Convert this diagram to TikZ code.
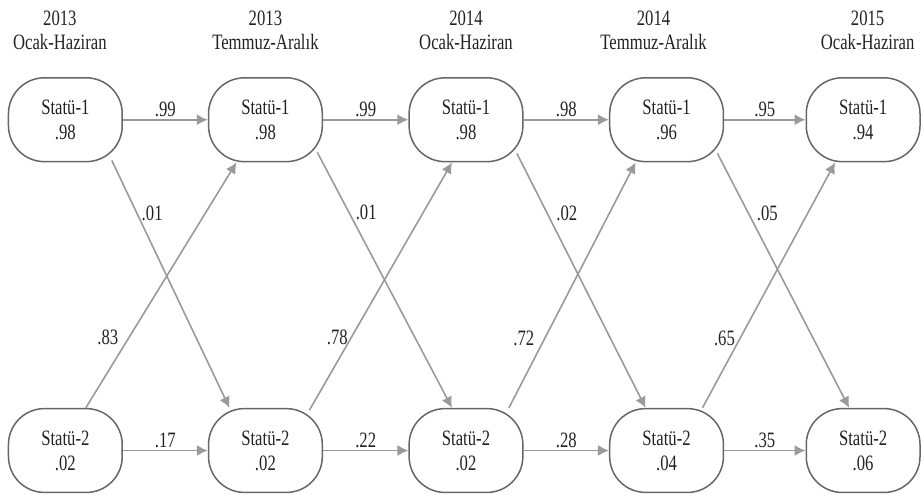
\documentclass[tikz,border=0pt]{standalone}
\usepackage{fontspec}
\setmainfont[FakeStretch=0.76]{Liberation Serif}
\usepackage{tikz}
\usepackage{xcolor}
\usetikzlibrary{arrows.meta, positioning, calc}

\definecolor{boxgray}{HTML}{666666}
\definecolor{arrowgray}{HTML}{9A9A9A}
\definecolor{inkgray}{HTML}{222222}

\tikzset{
  state/.style={draw=boxgray, line width=1.5pt, rounded corners=36pt,
    minimum width=114pt, minimum height=84pt, inner sep=0pt,
    align=center, text=inkgray, font=\fontsize{22}{25}\selectfont},
  trans/.style={draw=arrowgray, line width=1.6pt, -{Latex[length=11pt,width=11pt]}},
  prob/.style={inner sep=2pt, text=inkgray, font=\fontsize{22}{24}\selectfont},
  period/.style={align=center, text=inkgray, font=\fontsize{22}{24}\selectfont}
}

\begin{document}
\begin{tikzpicture}[x=1pt,y=1pt]
\useasboundingbox (0,0) rectangle (923,497);
% Periods
\foreach \x/\yr/\half [count=\i] in {60/2013/Ocak-Haziran, 266/2013/Temmuz-Aralık,
    467/2014/Ocak-Haziran, 655/2014/Temmuz-Aralık, 869.5/2015/Ocak-Haziran}
  \node[period] (p\i) at (\x,467) {\yr\\\half};

% States
\foreach \x/\one/\two [count=\i] in {65.5/.98/.02, 266/.98/.02, 467/.98/.02,
    668/.96/.04, 865/.94/.06} {
  \node[state] (t\i) at (\x,377) {Statü-1\\\one};
  \node[state] (b\i) at (\x,45.5) {Statü-2\\\two};
}

% Staying in the same status
\foreach \i/\up/\dn in {1/.99/.17, 2/.99/.22, 3/.98/.28, 4/.95/.35} {
  \pgfmathtruncatemacro{\j}{\i+1}
  \draw[trans] (t\i) -- node[prob, above] (h\i) {\up} (t\j);
  \draw[trans] (b\i) -- node[prob, above] (g\i) {\dn} (b\j);
}

% Changing status
\draw[trans] ([shift={(46.5,2)}]t1.south) -- ([xshift=-36pt]b2.north);
\draw[trans] ([xshift=20.5pt]b1.north) -- ([xshift=-29pt]t2.south);
\draw[trans] ([shift={(52,10)}]t2.south) -- ([xshift=-14pt]b3.north);
\draw[trans] ([shift={(44,-2.5)}]b2.north) -- ([xshift=-14pt]t3.south);
\draw[trans] ([shift={(51,9)}]t3.south) -- ([xshift=-21pt]b4.north);
\draw[trans] ([xshift=43pt]b3.north) -- ([xshift=-31pt]t4.south);
\draw[trans] ([shift={(51,9)}]t4.south) -- ([xshift=-14pt]b5.north);
\draw[trans] ([xshift=36pt]b4.north) -- ([xshift=-28pt]t5.south);

\foreach \x/\y/\v [count=\k] in {152.5/283/.01, 108/159/.83, 367/284/.01, 338/159/.78,
    568/283/.02, 525/158/.72, 769/283/.05, 726/158/.65}
  \node[prob] (d\k) at (\x,\y) {\v};
\end{tikzpicture}
\end{document}
